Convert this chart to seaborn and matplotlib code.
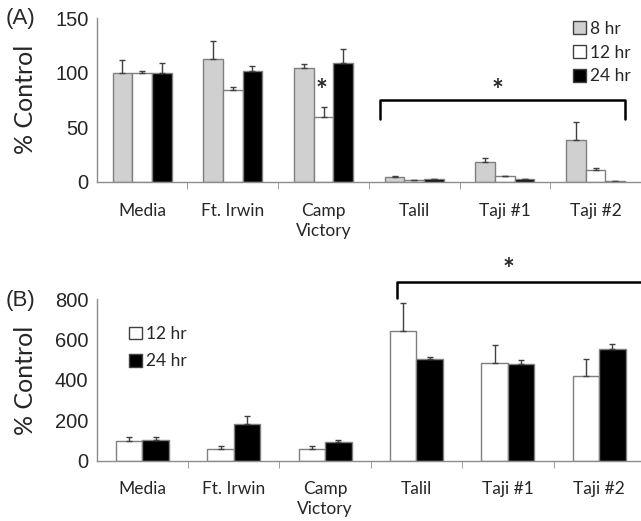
import numpy as np
import pandas as pd
import matplotlib.pyplot as plt
import seaborn as sns
from matplotlib.patches import Patch

# sites (x categories)
sites = ["Media", "Ft. Irwin", "Camp\nVictory", "Talil", "Taji #1", "Taji #2"]

# panel A: % control at 8, 12, 24 hr
a_8hr = [100, 113, 104, 4, 18, 38]
a_8hr_err = [12, 16, 4, 1, 4, 17]
a_12hr = [100, 84, 59, 2, 5.5, 10.5]
a_12hr_err = [1.5, 3, 10, 0, 0, 2.5]
a_24hr = [100, 102, 109, 2.5, 2.5, 1]
a_24hr_err = [9, 4, 13, 0, 0, 0]

# panel B: % control at 12, 24 hr
b_12hr = [99, 56, 56, 642, 482, 419]
b_12hr_err = [17, 18, 18, 137, 92, 86]
b_24hr = [100, 181, 94, 505, 477, 551]
b_24hr_err = [16, 40, 7, 10, 21, 25]

sns.set_style("white")
plt.rcParams['font.family'] = ['Lato', 'DejaVu Sans']

colors = {"8 hr": "#d0d0d0", "12 hr": "#ffffff", "24 hr": "#000000"}
edge = "#7f7f7f"


def make_df(series):
    rows = []
    for label, (vals, errs) in series.items():
        for s, v, e in zip(sites, vals, errs):
            rows.append({"site": s, "time": label, "value": v, "err": e})
    return pd.DataFrame(rows)


def draw_panel(ax, df, hue_order, width):
    sns.barplot(data=df, x="site", y="value", hue="time", hue_order=hue_order,
                order=sites, palette=colors, width=width, gap=0, errorbar=None,
                edgecolor=edge, linewidth=1, ax=ax, legend=False)
    # upper-only error bars, one hue at a time (patch order is hue then site)
    n = len(sites)
    for i, label in enumerate(hue_order):
        sub = df[df["time"] == label]
        bars = ax.patches[i * n:(i + 1) * n]
        xs = [b.get_x() + b.get_width() / 2 for b in bars]
        ax.errorbar(xs, sub["value"].values,
                    yerr=[np.zeros(n), sub["err"].values],
                    fmt="none", ecolor="#404040", elinewidth=1, capsize=2.5,
                    capthick=1, zorder=1)
    ax.set_xlim(-0.5, 5.5)
    ax.set_xlabel("")
    ax.set_ylabel("")
    for sp in ["top", "right"]:
        ax.spines[sp].set_visible(False)
    for sp in ["left", "bottom"]:
        ax.spines[sp].set_color("#8c8c8c")
        ax.spines[sp].set_linewidth(1)
    # category labels without marks, boundary ticks as minor marks
    ax.set_xticks(range(len(sites)))
    ax.set_xticklabels(sites, fontsize=12.5, linespacing=1.3)
    ax.set_xticks(np.arange(0.5, 5.5, 1), minor=True)
    ax.tick_params(axis="x", which="major", length=0, pad=15)
    ax.tick_params(axis="x", which="minor", length=5, color="#8c8c8c",
                   direction="out", bottom=True)
    ax.tick_params(axis="y", length=0, pad=6, labelsize=14.5)
    for t in ax.get_yticklabels():
        t.set_fontfamily("Liberation Sans")


def bracket(ax, x0, x1, y_top, y_bot):
    ax.plot([x0, x0, x1, x1], [y_bot, y_top, y_top, y_bot], color="black",
            lw=1.8, solid_joinstyle="round", clip_on=False)


fig = plt.figure(figsize=(6.41, 5.21), dpi=100)

# panel A
ax1 = fig.add_axes([0.151, 0.651, 0.849, 0.314])
df_a = make_df({"8 hr": (a_8hr, a_8hr_err), "12 hr": (a_12hr, a_12hr_err),
                "24 hr": (a_24hr, a_24hr_err)})
draw_panel(ax1, df_a, ["8 hr", "12 hr", "24 hr"], 0.65)
ax1.set_ylim(0, 150)
ax1.set_yticks([0, 50, 100, 150])
bracket(ax1, 2.62, 5.32, 75, 58)
ax1.text(3.92, 83, "*", ha="center", va="center", fontsize=20, fontweight="bold")
ax1.text(1.98, 83, "*", ha="center", va="center", fontsize=20, fontweight="bold")

# panel B
ax2 = fig.add_axes([0.151, 0.116, 0.855, 0.31])
df_b = make_df({"12 hr": (b_12hr, b_12hr_err), "24 hr": (b_24hr, b_24hr_err)})
draw_panel(ax2, df_b, ["12 hr", "24 hr"], 0.58)
ax2.set_ylim(0, 800)
ax2.set_yticks([0, 200, 400, 600, 800])
bracket(ax2, 2.79, 5.6, 883, 803)
ax2.text(4.01, 945, "*", ha="center", va="center", fontsize=20,
         fontweight="bold", clip_on=False)

# legends
h_a = [Patch(facecolor=colors[k], edgecolor="#404040", label=k)
       for k in ["8 hr", "12 hr", "24 hr"]]
ax1.legend(handles=h_a, loc="upper right", bbox_to_anchor=(1.01, 1.08),
           frameon=False, fontsize=12.5, handlelength=0.75, handleheight=0.75,
           handletextpad=0.25, labelspacing=0.45)
h_b = [Patch(facecolor=colors[k], edgecolor="#404040", label=k)
       for k in ["12 hr", "24 hr"]]
ax2.legend(handles=h_b, loc="upper left", bbox_to_anchor=(0.03, 0.93),
           frameon=False, fontsize=12.5, handlelength=0.75, handleheight=0.75,
           handletextpad=0.25, labelspacing=0.65)

# panel tags and y labels
fig.text(0.008, 0.965, "(A)", fontsize=16, va="center", family="Liberation Sans")
fig.text(0.008, 0.424, "(B)", fontsize=16, va="center", family="Liberation Sans")
fig.text(0.04, 0.81, "% Control", fontsize=18, rotation=90, ha="center",
         va="center")
fig.text(0.04, 0.27, "% Control", fontsize=18, rotation=90, ha="center",
         va="center")

fig.savefig("out.png", dpi=100)
